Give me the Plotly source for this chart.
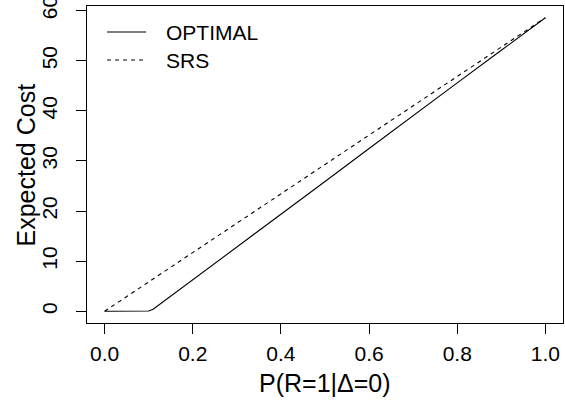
import plotly.graph_objects as go

# Probability of response among Delta=0 units
p_optimal = [0.0, 0.05, 0.10, 0.11, 0.12, 0.2, 0.3, 0.4, 0.5, 0.6, 0.7, 0.8, 0.9, 1.0]
cost_optimal = [0.0, 0.0, 0.05, 0.4, 1.05, 6.3, 12.8, 19.4, 25.9, 32.5, 39.1, 45.6, 52.1, 58.6]

p_srs = [0.0, 0.2, 0.4, 0.6, 0.8, 1.0]
cost_srs = [0.0, 11.7, 23.4, 35.2, 46.9, 58.6]

x_ticks = [0.0, 0.2, 0.4, 0.6, 0.8, 1.0]
x_ticklabels = ["0.0", "0.2", "0.4", "0.6", "0.8", "1.0"]
y_ticks = [0, 10, 20, 30, 40, 50, 60]

legend_labels = ["OPTIMAL", "SRS"]
x_title = "P(R=1|Δ=0)"
y_title = "Expected Cost"

FONT = "Liberation Sans, Arial, sans-serif"
W, H = 565, 402
L, R, T, B = 87, 2, 6, 79
PW, PH = W - L - R, H - T - B

fig = go.Figure()
fig.add_trace(go.Scatter(x=p_optimal, y=cost_optimal, mode="lines",
                         line=dict(color="black", width=1.1), name=legend_labels[0]))
fig.add_trace(go.Scatter(x=p_srs, y=cost_srs, mode="lines",
                         line=dict(color="black", width=1.1, dash="4px,4px"), name=legend_labels[1]))


def px_x(px):
    return (px - L) / PW


def px_y(py):
    return (H - B - py) / PH


# Legend drawn in the top-left corner without a box
shapes = []
annotations = []
for i, (label, dash) in enumerate(zip(legend_labels, ["solid", "4px,4px"])):
    yy = 32 + i * 28
    shapes.append(dict(type="line", xref="paper", yref="paper",
                       x0=px_x(107), x1=px_x(146), y0=px_y(yy), y1=px_y(yy),
                       line=dict(color="black", width=1.1, dash=dash)))
    annotations.append(dict(text=label, xref="paper", yref="paper",
                            x=px_x(164), y=px_y(yy), xanchor="left", yanchor="middle",
                            showarrow=False, font=dict(family=FONT, size=21, color="black")))

# Axis titles placed in the margins
annotations.append(dict(text=y_title, xref="paper", yref="paper",
                        x=px_x(25), y=0.5, xanchor="center", yanchor="middle",
                        textangle=-90, showarrow=False,
                        font=dict(family=FONT, size=25, color="black")))
annotations.append(dict(text=x_title, xref="paper", yref="paper",
                        x=0.5, y=px_y(383), xanchor="center", yanchor="middle",
                        showarrow=False,
                        font=dict(family=FONT, size=25, color="black")))

ymax = 58.6
fig.update_layout(
    width=W, height=H,
    margin=dict(l=L, r=R, t=T, b=B),
    plot_bgcolor="white", paper_bgcolor="white",
    showlegend=False,
    shapes=shapes, annotations=annotations,
    font=dict(family=FONT, size=21, color="black"),
    xaxis=dict(
        range=[-0.04, 1.04], tickvals=x_ticks, ticktext=x_ticklabels,
        ticks="outside", ticklen=10, tickwidth=1, tickcolor="black",
        showline=True, linecolor="black", linewidth=1, mirror=True,
        showgrid=False, zeroline=False, ticklabelstandoff=2, automargin=False,
    ),
    yaxis=dict(
        range=[-0.04 * ymax, 1.04 * ymax], tickvals=y_ticks,
        ticks="outside", ticklen=10, tickwidth=1, tickcolor="black",
        showline=True, linecolor="black", linewidth=1, mirror=True,
        showgrid=False, zeroline=False, tickangle=-90, ticklabelstandoff=11,
        ticklabeloverflow="allow", automargin=False,
    ),
)

fig.write_html("out.html")
